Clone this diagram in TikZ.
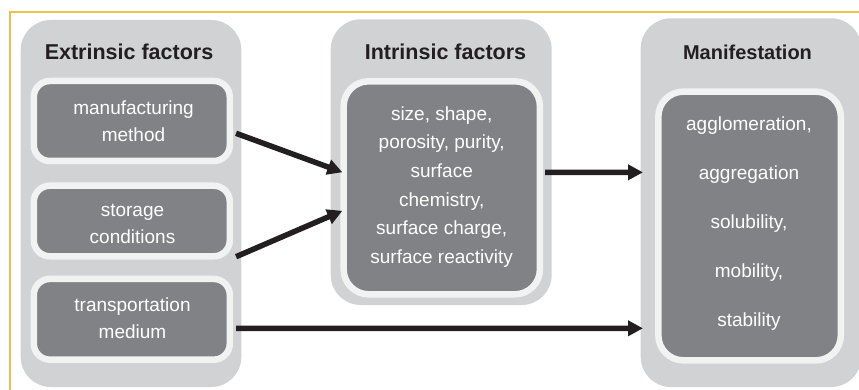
\documentclass[tikz,border=0pt]{standalone}
\usepackage{fontspec}
\setmainfont{Liberation Sans}
\usetikzlibrary{arrows.meta}
\definecolor{outerg}{HTML}{D1D2D4}
\definecolor{ringw}{HTML}{F1F2F2}
\definecolor{darkg}{HTML}{808285}
\definecolor{inkc}{HTML}{231F20}
\definecolor{framec}{HTML}{F2BE4A}
\begin{document}
\begin{tikzpicture}[x=1pt,y=-1pt,
  outerbox/.style={fill=outerg, rounded corners=30pt, inner sep=0pt, outer sep=0pt},
  itembox/.style={draw=ringw, line width=6.5pt, fill=darkg, inner sep=0pt},
  titletext/.style={text=inkc, font=\fontsize{21.5}{26}\selectfont\bfseries, anchor=base, inner sep=0pt},
  itemtext/.style={text=white, align=center, inner sep=0pt, font=\fontsize{19}{27.5}\selectfont},
  arr/.style={draw=inkc, line width=5.5pt, -{Triangle[length=15pt,width=15pt]}}]
\useasboundingbox (0,0) rectangle (859,390);
\draw[framec, line width=1.2pt] (10,390) -- (10,12) -- (859,12);
% outer boxes
\node[outerbox, minimum width=220.6pt, minimum height=367pt] (extO) at (131,203.5) {};
\node[outerbox, minimum width=221pt, minimum height=285.7pt] (intO) at (441.2,162.15) {};
\node[outerbox, minimum width=220.6pt, minimum height=368.7pt] (manO) at (751,202.65) {};
% titles
\node[titletext] (t1) at (129,59.3) {Extrinsic factors};
\node[titletext] (t2) at (445.5,59.3) {Intrinsic factors};
\node[titletext, font=\fontsize{20}{24}\selectfont\bfseries] (t3) at (747.5,59.5) {Manifestation};
% inner boxes
\node[itembox, rounded corners=16pt, minimum width=196pt, minimum height=80pt] (m1) at (131.8,121) {};
\node[itembox, rounded corners=16pt, minimum width=196pt, minimum height=70.6pt] (m2) at (131.8,221) {};
\node[itembox, rounded corners=16pt, minimum width=196pt, minimum height=80.7pt] (m3) at (131.8,319.3) {};
\node[itembox, rounded corners=25pt, minimum width=196.3pt, minimum height=213pt] (intr) at (441.8,187.8) {};
\node[itembox, rounded corners=25pt, minimum width=182.5pt, minimum height=268.7pt] (manif) at (749.6,226) {};
% texts
\node[itemtext] (x1) at (133.5,121) {manufacturing\\method};
\node[itemtext] (x2) at (132.5,224) {storage\\conditions};
\node[itemtext] (x3) at (132.5,318) {transportation\\medium};
\node[itemtext, font=\fontsize{19}{28.7}\selectfont] (x4) at (441.7,187) {size, shape,\\porosity, purity,\\surface\\chemistry,\\surface charge,\\surface reactivity};
\node[itemtext, font=\fontsize{19}{49}\selectfont] (x5) at (749,223.5) {agglomeration,\\aggregation\\solubility,\\mobility,\\stability};
% arrows
\draw[arr] ([xshift=3pt,yshift=-12.3pt]m1.east) -- ([xshift=2pt,yshift=15.5pt]intr.west);
\draw[arr] ([xshift=3pt,yshift=-35.7pt]m2.east) -- ([xshift=2pt,yshift=-23pt]intr.west);
\draw[arr] ([xshift=2pt,yshift=15.5pt]intr.east) -- ([xshift=2.3pt,yshift=30.3pt]manO.west);
\draw[arr] ([xshift=3pt,yshift=-9pt]m3.east) -- ([xshift=2.3pt,yshift=-125.65pt]manO.west);
\end{tikzpicture}
\end{document}
